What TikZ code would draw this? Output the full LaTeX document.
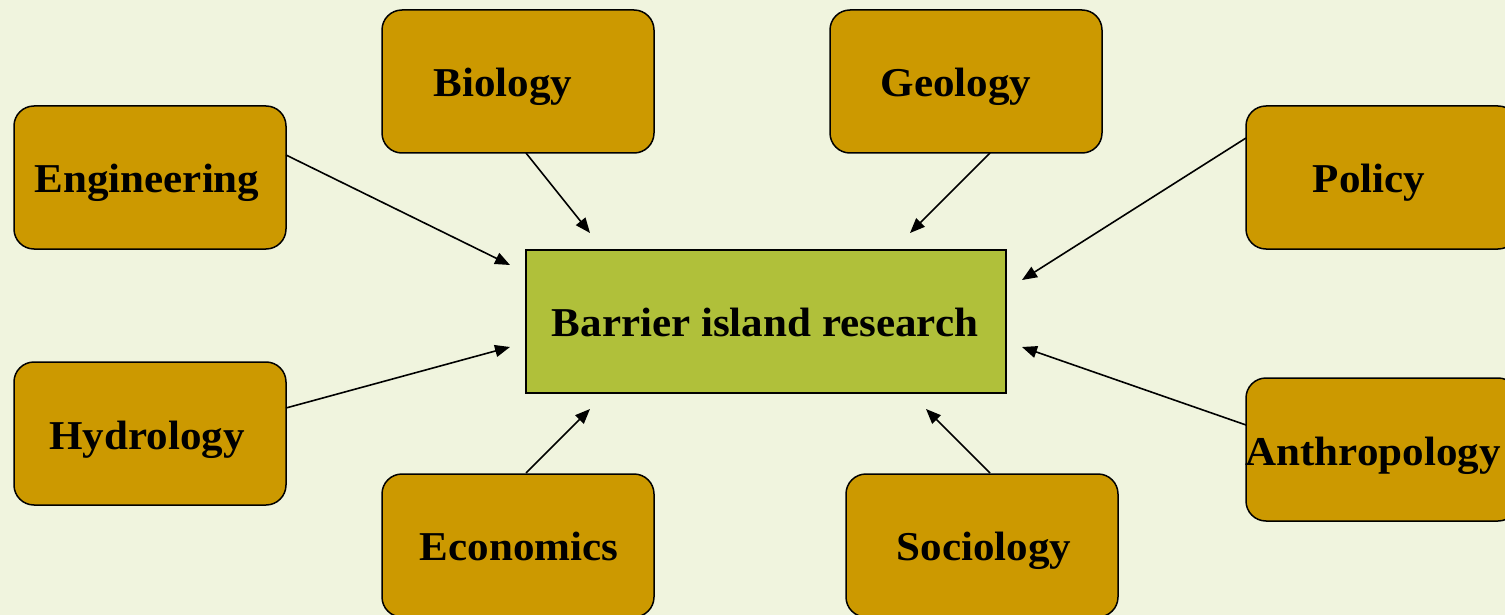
\documentclass[tikz,border=0pt]{standalone}
\usepackage{fontspec}
\setmainfont[FakeStretch=1.05]{Liberation Serif}
\usetikzlibrary{arrows.meta}
\definecolor{bgc}{RGB}{240,244,222}
\definecolor{boxc}{RGB}{204,153,0}
\definecolor{mainc}{RGB}{176,192,58}
\tikzset{
  disc/.style={draw=black, line width=1.5pt, fill=boxc, rounded corners=20pt, minimum width=272pt, minimum height=143pt, inner sep=0pt},
  mainbox/.style={draw=black, line width=1.5pt, fill=mainc, minimum width=480pt, minimum height=143pt, inner sep=0pt},
  lbl/.style={anchor=base, inner sep=0pt, font=\fontsize{41}{48}\selectfont\bfseries},
  conn/.style={line width=1.6pt, -{Triangle[length=15pt,width=12pt]}}
}
\begin{document}
\begin{tikzpicture}[x=1pt,y=-1pt]
\fill[bgc] (0,0) rectangle (1505,615);
\useasboundingbox (0,0) rectangle (1505,615);
% boxes
\node[mainbox] (main) at (766,321.5) {};
\node[disc] (eng) at (150,177.5) {};
\node[disc] (bio) at (518,81.5) {};
\node[disc] (geo) at (966,81.5) {};
\node[disc] (pol) at (1382,177.5) {};
\node[disc] (hyd) at (150,433.5) {};
\node[disc] (eco) at (518,545.5) {};
\node[disc] (soc) at (982,545.5) {};
\node[disc] (ant) at (1382,449.5) {};
% labels
\node[lbl] (main-t) at (765,336) {Barrier island research};
\node[lbl] (eng-t) at (147,193) {Engineering};
\node[lbl] (bio-t) at (503,97) {Biology};
\node[lbl] (geo-t) at (956,97) {Geology};
\node[lbl] (pol-t) at (1369,193) {Policy};
\node[lbl] (hyd-t) at (147,449) {Hydrology};
\node[lbl] (eco-t) at (519,560) {Economics};
\node[lbl] (soc-t) at (984,560) {Sociology};
\node[lbl] (ant-t) at (1373,465) {Anthropology};
% connector end points
\coordinate (eng-s) at (286,155);  \coordinate (eng-e) at (510,265);
\coordinate (bio-s) at (526,153);  \coordinate (bio-e) at (590,233);
\coordinate (geo-s) at (990,153);  \coordinate (geo-e) at (910,233);
\coordinate (pol-s) at (1246,138); \coordinate (pol-e) at (1022,280);
\coordinate (hyd-s) at (286,408);  \coordinate (hyd-e) at (510,347);
\coordinate (eco-s) at (526,473);  \coordinate (eco-e) at (590,409);
\coordinate (soc-s) at (990,473);  \coordinate (soc-e) at (926,409);
\coordinate (ant-s) at (1246,425); \coordinate (ant-e) at (1022,347);
% connectors
\draw[conn] (eng-s) -- (eng-e);
\draw[conn] (bio-s) -- (bio-e);
\draw[conn] (geo-s) -- (geo-e);
\draw[conn] (pol-s) -- (pol-e);
\draw[conn] (hyd-s) -- (hyd-e);
\draw[conn] (eco-s) -- (eco-e);
\draw[conn] (soc-s) -- (soc-e);
\draw[conn] (ant-s) -- (ant-e);
\end{tikzpicture}
\end{document}
